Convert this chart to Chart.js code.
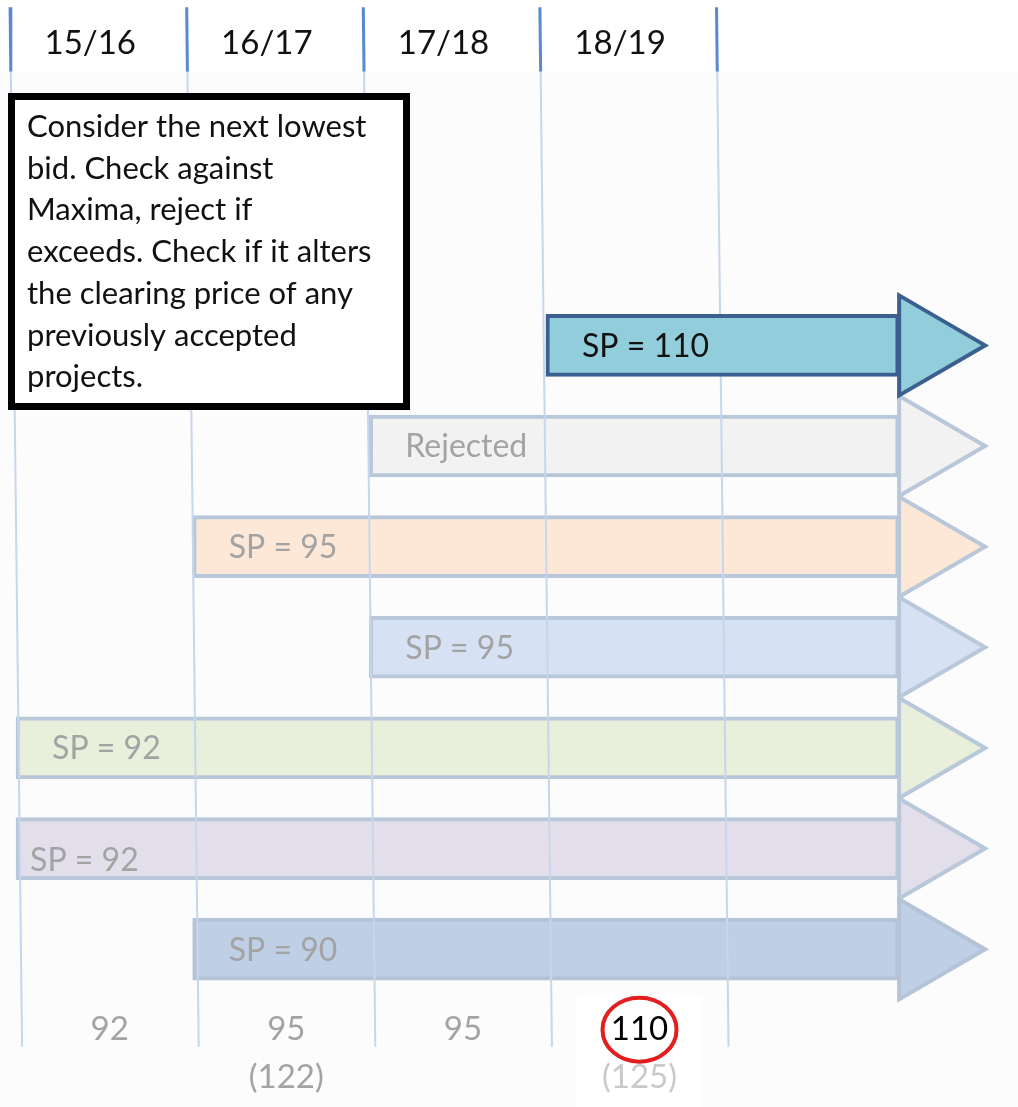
<!DOCTYPE html>
<html>
<head>
<meta charset="utf-8">
<title>Bid stack</title>
<script src="https://cdn.jsdelivr.net/npm/chart.js@4.4.1/dist/chart.umd.min.js"></script>
<style>
    html, body { margin: 0; background: #ffffff; }
    #wrap { width: 1018px; height: 1107px; }
</style>
</head>
<body>
<div id="wrap"><canvas id="chart"></canvas></div>
<script>
"use strict";

const canvas = document.getElementById("chart");

// delivery years along the top
const years = ["15/16", "16/17", "17/18", "18/19"];
const yearBounds = [0, 1, 2, 3, 4];

// bids, the one under consideration first
const bidNames = ["SP = 110", "Rejected", "SP = 95", "SP = 95", "SP = 92", "SP = 92", "SP = 90"];
const bidStart = [3, 2, 1, 2, 0, 0, 1];
const bidEnd = [5, 5, 5, 5, 5, 5, 5];
const currentBid = 0;

// clearing price of each year, maxima in brackets
const clearingPrices = ["92", "95", "95", "110"];
const maxima = ["", "(122)", "", "(125)"];
const circledYear = 3;

const noteLines = [
    "Consider the next lowest",
    "bid. Check against",
    "Maxima, reject if",
    "exceeds. Check if it alters",
    "the clearing price of any",
    "previously accepted",
    "projects."
];

// ---- styling ----
const FONT = "Lato, 'Open Sans', sans-serif";
const bidFills = ["#92cddc", "#f2f2f2", "#fde8d8", "#d6e2f3", "#e8efdb", "#e3dfea", "#bfd0e6"];
const bidEdges = ["#3b5f8e", "#b8c7da", "#b8c7da", "#b8c7da", "#b8c7da", "#b8c7da", "#b4c3d7"];
const FADED_TEXT = "#a3a3a3";
const HEAD_LEN = 86;   // arrow head length, px
const HEAD_HALF = 50;  // half height of the arrow head, px

// rows on the y axis (0 = top bid)
const HEADER_ROW = -3.0;
const LINE_TOP = -3.36;
const LINE_FADE = -2.72;   // grid lines turn pale below here
const LINE_BOTTOM = 6.97;
const PRICE_ROW = 6.8;
const MAXIMA_ROW = 7.27;
const LEAN = 0.034;        // grid lines lean slightly to the right

const leanAt = (row) => -LEAN + 2 * LEAN * (row - LINE_TOP) / (LINE_BOTTOM - LINE_TOP);

const bars = (pick) => bidNames.map((name, i) => ({ x: [bidStart[i], bidEnd[i]], y: i }))
    .filter((d, i) => pick(i));

const barStyle = {
    type: "bar",
    indexAxis: "y",
    grouped: false,
    barThickness: 62,
    borderWidth: 4,
    borderSkipped: false,
    backgroundColor: (ctx) => bidFills[ctx.raw ? ctx.raw.y : 0],
    borderColor: (ctx) => bidEdges[ctx.raw ? ctx.raw.y : 0],
};

const gridLines = yearBounds.map(b => ({
    type: "line",
    order: 2,
    data: [
        { x: b + leanAt(LINE_TOP), y: LINE_TOP },
        { x: b + leanAt(LINE_FADE), y: LINE_FADE },
        { x: b + leanAt(LINE_BOTTOM), y: LINE_BOTTOM }
    ],
    pointRadius: 0,
    borderColor: "#c6d6ec",
    borderWidth: 2,
    segment: {
        borderColor: (ctx) => ctx.p0DataIndex === 0 ? "#5a8ace" : undefined, // darker above the fade
        borderWidth: (ctx) => ctx.p0DataIndex === 0 ? 3 : undefined,
    },
}));

const text = (ctx, str, x, y, size, color, align) => {
    ctx.font = size + "px " + FONT;
    ctx.fillStyle = color;
    ctx.textAlign = align || "center";
    ctx.textBaseline = "middle";
    ctx.fillText(str, x, y);
};

const decorations = {
    id: "decorations",
    beforeDatasetsDraw(chart) {
        const { ctx, chartArea, scales: { x, y } } = chart;
        ctx.save();
        // pale wash under the header strip
        const top = y.getPixelForValue(LINE_FADE);
        ctx.fillStyle = "#fcfcfc";
        ctx.fillRect(chartArea.left, top, chartArea.right - chartArea.left, chartArea.bottom - top);
        // white patch behind the circled price
        const cx = x.getPixelForValue(circledYear + 0.53);
        const cy = y.getPixelForValue(PRICE_ROW);
        ctx.fillStyle = "#ffffff";
        ctx.fillRect(cx - 63, cy - 35, 126, chartArea.bottom - cy + 35);
        ctx.restore();
    },
    afterDatasetDraw(chart, args) {
        if (args.meta.type !== "bar") return;
        const ctx = chart.ctx;
        ctx.save();
        args.meta.data.forEach(bar => {
            const { x, y } = bar.getProps(["x", "y"], true);
            ctx.beginPath();
            ctx.moveTo(x, y - HEAD_HALF);
            ctx.lineTo(x + HEAD_LEN, y);
            ctx.lineTo(x, y + HEAD_HALF);
            ctx.closePath();
            ctx.fillStyle = bar.options.backgroundColor;
            ctx.fill();
            ctx.lineWidth = 4;
            ctx.strokeStyle = bar.options.borderColor;
            ctx.stroke();
        });
        ctx.restore();
    },
    afterDatasetsDraw(chart) {
        const { ctx, scales: { x, y } } = chart;
        ctx.save();

        // bid labels inside the arrows
        chart.getSortedVisibleDatasetMetas().forEach(meta => {
            if (meta.type !== "bar") return;
            meta.data.forEach((bar, i) => {
                const row = meta._parsed[i].y;
                const { base, y: by } = bar.getProps(["base", "y"], true);
                const nudge = row === 5 ? [-22, 11] : [0, 0];
                text(ctx, bidNames[row], base + 36 + nudge[0], by + 1 + nudge[1], 32,
                    row === currentBid ? "#111111" : FADED_TEXT, "left");
            });
        });

        // year headers
        years.forEach((label, i) => {
            text(ctx, label, x.getPixelForValue(i + 0.42), y.getPixelForValue(HEADER_ROW), 33, "#111111");
        });

        // clearing prices and maxima
        clearingPrices.forEach((p, i) => {
            const px = x.getPixelForValue(i + 0.53);
            const py = y.getPixelForValue(PRICE_ROW);
            text(ctx, p, px, py, 33, i === circledYear ? "#000000" : FADED_TEXT);
            if (maxima[i]) {
                text(ctx, maxima[i], px, y.getPixelForValue(MAXIMA_ROW), 33,
                    i === circledYear ? "#c9c9c9" : FADED_TEXT);
            }
            if (i === circledYear) {
                ctx.beginPath();
                ctx.ellipse(px, py, 37, 32, 0, 0, Math.PI * 2);
                ctx.lineWidth = 4;
                ctx.strokeStyle = "#e31e1e";
                ctx.stroke();
            }
        });
        ctx.restore();
    },
    afterDraw(chart) {
        const ctx = chart.ctx;
        ctx.save();
        // note box
        ctx.fillStyle = "#ffffff";
        ctx.fillRect(11, 96, 396, 311);
        ctx.lineWidth = 7;
        ctx.strokeStyle = "#000000";
        ctx.strokeRect(11.5, 96.5, 395, 310);
        noteLines.forEach((line, i) => {
            text(ctx, line, 27, 127 + i * 41.7, 31, "#111111", "left");
        });
        ctx.restore();
    }
};

new Chart(canvas, {
    type: "bar",
    data: {
        datasets: [
            Object.assign({ label: "earlier bids", order: 3, data: bars(i => i !== currentBid) }, barStyle),
            ...gridLines,
            Object.assign({ label: "next bid", order: 1, data: bars(i => i === currentBid) }, barStyle),
        ]
    },
    options: {
        responsive: true,
        maintainAspectRatio: false,
        animation: false,
        indexAxis: "y",
        layout: { padding: 0 },
        plugins: {
            legend: { display: false },
            tooltip: { enabled: false },
        },
        scales: {
            x: { type: "linear", display: false, min: -0.091, max: 5.673, offset: false },
            y: { type: "linear", display: false, reverse: true, min: -3.432, max: 7.568, offset: false },
        },
    },
    plugins: [decorations]
});
</script>
</body>
</html>
